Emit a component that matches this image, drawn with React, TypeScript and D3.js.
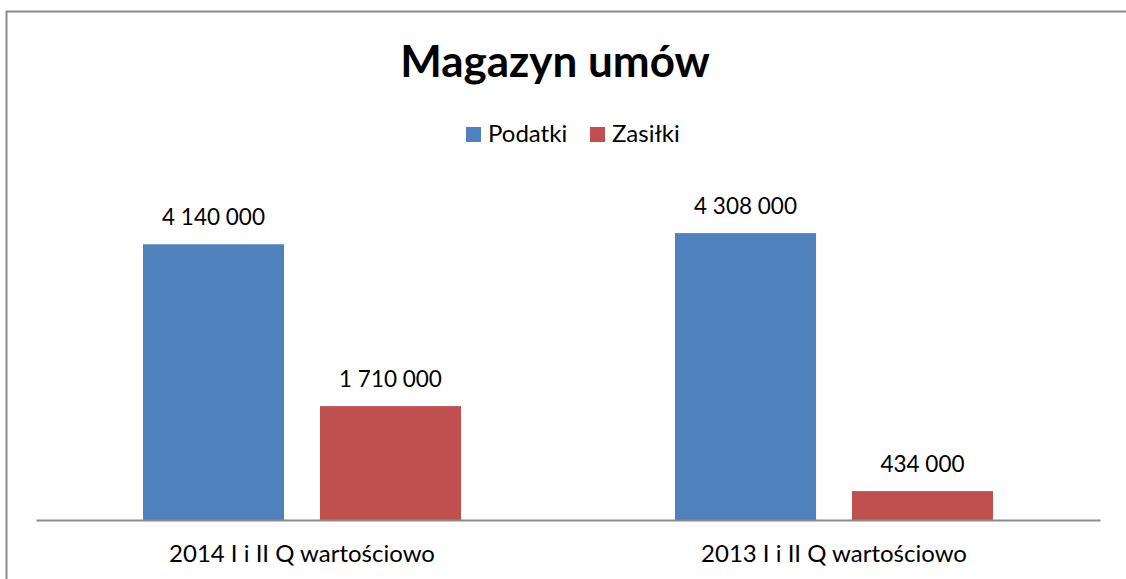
import { useEffect, useRef } from "react";
import * as d3 from "d3";

const categories = ["2014 I i II Q wartościowo", "2013 I i II Q wartościowo"];
const seriesNames = ["Podatki", "Zasiłki"];
const podatki = [4140000, 4308000];
const zasilki = [1710000, 434000];
const colors = ["#4F81BD", "#C0504D"];

const W = 1126;
const H = 579;
const FONT = "Lato, 'Open Sans', sans-serif";

export default function App() {
  const ref = useRef<SVGSVGElement | null>(null);

  useEffect(() => {
    document.documentElement.style.overflow = "hidden";
    document.body.style.margin = "0";
    const svg = d3.select(ref.current);
    svg.selectAll("*").remove();

    const values = [podatki, zasilki];
    const rows = categories.map((c, i) => ({
      cat: c,
      vals: seriesNames.map((s, j) => ({ name: s, value: values[j][i] })),
    }));

    // plot area
    const x = d3.scaleBand<string>().domain(categories).range([36, 1100]);
    const xSub = d3
      .scaleBand<string>()
      .domain(seriesNames)
      .range([0, x.bandwidth()])
      .paddingInner(0.203)
      .paddingOuter(0.6045);
    const y = d3.scaleLinear().domain([0, 5000000]).range([520, 187]);
    const color = d3.scaleOrdinal<string, string>().domain(seriesNames).range(colors);

    const fmt = d3
      .formatLocale({ decimal: ",", thousands: " ", grouping: [3], currency: ["", ""] })
      .format(",");

    // outer frame (only left and top edges are inside the picture)
    svg
      .append("path")
      .attr("d", `M6.5,${H}V11.5H${W}`)
      .attr("fill", "none")
      .attr("stroke", "#8a8a8a")
      .attr("stroke-width", 2);

    // title
    svg
      .append("text")
      .attr("x", 555)
      .attr("y", 77)
      .attr("text-anchor", "middle")
      .attr("font-family", FONT)
      .attr("font-weight", "bold")
      .attr("font-size", 44)
      .attr("fill", "#000")
      .text("Magazyn umów");

    // legend
    const legendX = [466, 590];
    const legend = svg
      .selectAll("g.legend")
      .data(seriesNames)
      .enter()
      .append("g")
      .attr("class", "legend")
      .attr("transform", (_d, i) => `translate(${legendX[i]},127)`);
    legend
      .append("rect")
      .attr("width", 15)
      .attr("height", 15)
      .attr("fill", (d) => color(d));
    legend
      .append("text")
      .attr("x", 22)
      .attr("y", 15)
      .attr("font-family", FONT)
      .attr("font-size", 24)
      .attr("fill", "#000")
      .text((d) => d);

    // bars
    const groups = svg
      .selectAll("g.cat")
      .data(rows)
      .enter()
      .append("g")
      .attr("class", "cat")
      .attr("transform", (d) => `translate(${x(d.cat)},0)`);

    groups
      .selectAll("rect")
      .data((d) => d.vals)
      .enter()
      .append("rect")
      .attr("x", (d) => xSub(d.name)!)
      .attr("y", (d) => y(d.value))
      .attr("width", xSub.bandwidth())
      .attr("height", (d) => y(0) - y(d.value))
      .attr("fill", (d) => color(d.name));

    // value labels
    groups
      .selectAll("text.val")
      .data((d) => d.vals)
      .enter()
      .append("text")
      .attr("class", "val")
      .attr("x", (d) => xSub(d.name)! + xSub.bandwidth() / 2)
      .attr("y", (d) => y(d.value) - 19)
      .attr("text-anchor", "middle")
      .attr("font-family", FONT)
      .attr("font-size", 22.5)
      .attr("fill", "#000")
      .text((d) => fmt(d.value));

    // category axis
    const axis = svg
      .append("g")
      .attr("transform", "translate(0,520)")
      .call(d3.axisBottom(x).tickSize(0).tickPadding(0));
    axis.select(".domain").attr("stroke", "#8c8c8c").attr("stroke-width", 2);
    axis
      .selectAll("text")
      .attr("dy", null)
      .attr("y", 42)
      .attr("font-family", FONT)
      .attr("font-size", 24)
      .attr("fill", "#000");
  }, []);

  return (
    <svg
      ref={ref}
      width={W}
      height={H}
      style={{ position: "absolute", left: 0, top: 0, background: "#fff" }}
    />
  );
}
